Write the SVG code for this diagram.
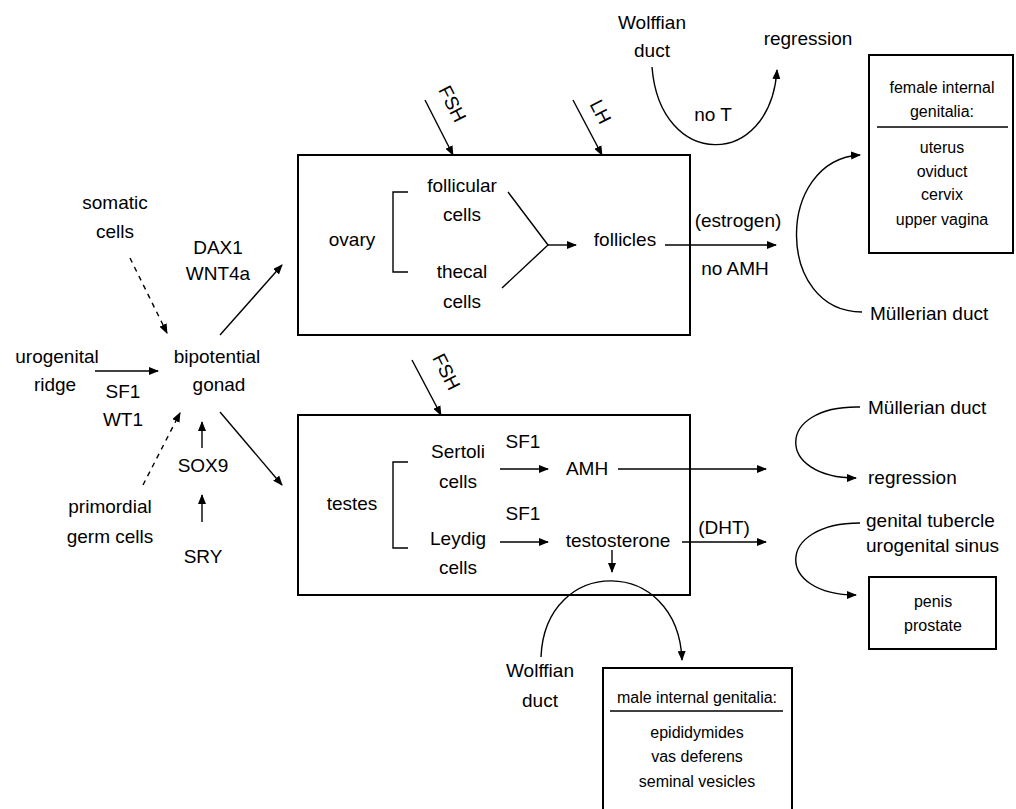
<svg xmlns="http://www.w3.org/2000/svg" width="1016" height="809" viewBox="0 0 1016 809">
<style>
text{font-family:"Liberation Sans",Arial,sans-serif;font-size:19px;fill:#000;text-anchor:middle}
.s{font-size:16px}
.l{text-anchor:start}
.box{fill:none;stroke:#000;stroke-width:2}
.ln{fill:none;stroke:#000;stroke-width:1.4}
.d{stroke-dasharray:5,5}
</style>
<defs>
<marker id="ah" markerWidth="10" markerHeight="8" refX="9" refY="4" orient="auto" markerUnits="userSpaceOnUse">
<path d="M0,0 L10,4 L0,8 z" fill="#000"/>
</marker>
</defs>
<rect width="1016" height="809" fill="#fff"/>

<g id="somatic"><text x="115" y="209">somatic</text><text x="115" y="238">cells</text></g>
<g id="dax"><text x="218" y="254">DAX1</text><text x="218" y="280">WNT4a</text></g>
<g id="urogenital"><text x="57" y="363">urogenital</text><text x="55" y="391">ridge</text></g>
<g id="sf1wt1"><text x="123" y="398">SF1</text><text x="123" y="426">WT1</text></g>
<g id="gonad"><text x="217" y="363">bipotential</text><text x="219" y="391">gonad</text></g>
<g id="sox9"><text x="203" y="472">SOX9</text></g>
<g id="sry"><text x="203" y="563">SRY</text></g>
<g id="primordial"><text x="110" y="513">primordial</text><text x="110" y="543">germ cells</text></g>

<g id="ovary-box">
<rect class="box" x="298" y="155" width="392" height="180"/>
<text x="352" y="246">ovary</text>
<path class="ln" d="M408,192 H393 V272 H408"/>
<text x="462" y="192">follicular</text><text x="462" y="221">cells</text>
<text x="462" y="278">thecal</text><text x="462" y="308">cells</text>
<text x="625" y="246">follicles</text>
</g>
<g id="fsh1"><text x="452" y="110" transform="rotate(63 452 104)">FSH</text></g>
<g id="lh"><text x="600" y="118" transform="rotate(63 600 112)">LH</text></g>

<g id="testes-box">
<rect class="box" x="298" y="415" width="392" height="180"/>
<text x="352" y="510">testes</text>
<path class="ln" d="M408,462 H393 V548 H408"/>
<text x="458" y="458">Sertoli</text><text x="458" y="488">cells</text>
<text x="458" y="545">Leydig</text><text x="458" y="574">cells</text>
<text x="523" y="448">SF1</text><text x="523" y="520">SF1</text>
<text x="587" y="475">AMH</text>
<text x="618" y="547">testosterone</text>
</g>
<g id="fsh2"><text x="446" y="378" transform="rotate(63 446 372)">FSH</text></g>

<g id="wolffian-top"><text x="652" y="29">Wolffian</text><text x="652" y="57">duct</text></g>
<g id="regression-top"><text x="808" y="45">regression</text></g>
<g id="noT"><text x="713" y="121">no T</text></g>
<g id="estrogen"><text x="738" y="227">(estrogen)</text><text x="735" y="275">no AMH</text></g>
<g id="mullerian-f"><text class="l" x="870" y="320">Müllerian duct</text></g>
<g id="female-box">
<rect class="box" x="869" y="55" width="144" height="198"/>
<text class="s" x="942" y="93">female internal</text>
<text class="s" x="942" y="117">genitalia:</text>
<line class="ln" x1="877" y1="127" x2="1008" y2="127"/>
<text class="s" x="942" y="153">uterus</text>
<text class="s" x="942" y="177">oviduct</text>
<text class="s" x="942" y="200">cervix</text>
<text class="s" x="942" y="225">upper vagina</text>
</g>

<g id="mullerian-m"><text class="l" x="868" y="414">Müllerian duct</text></g>
<g id="regression-m"><text class="l" x="868" y="484">regression</text></g>
<g id="tubercle"><text class="l" x="866" y="527">genital tubercle</text><text class="l" x="866" y="552">urogenital sinus</text></g>
<g id="dht"><text x="724" y="534">(DHT)</text></g>
<g id="penis-box">
<rect class="box" x="869" y="577" width="127" height="72"/>
<text class="s" x="933" y="607">penis</text>
<text class="s" x="933" y="631">prostate</text>
</g>
<g id="wolffian-m"><text x="540" y="677">Wolffian</text><text x="540" y="707">duct</text></g>
<g id="male-box">
<rect class="box" x="603" y="668" width="189" height="150"/>
<text class="s" x="697" y="703">male internal genitalia:</text>
<line class="ln" x1="610" y1="711" x2="783" y2="711"/>
<text class="s" x="697" y="738">epididymides</text>
<text class="s" x="697" y="762">vas deferens</text>
<text class="s" x="697" y="787">seminal vesicles</text>
</g>

<g id="connectors">
<line class="ln d" x1="130" y1="258" x2="167" y2="333" marker-end="url(#ah)"/>
<line class="ln" x1="95" y1="371" x2="158" y2="371" marker-end="url(#ah)"/>
<line class="ln d" x1="143" y1="485" x2="180" y2="413" marker-end="url(#ah)"/>
<line class="ln" x1="202" y1="448" x2="202" y2="422" marker-end="url(#ah)"/>
<line class="ln" x1="202" y1="522" x2="202" y2="495" marker-end="url(#ah)"/>
<line class="ln" x1="220" y1="335" x2="282" y2="265" marker-end="url(#ah)"/>
<line class="ln" x1="220" y1="412" x2="282" y2="485" marker-end="url(#ah)"/>
<line class="ln" x1="425" y1="100" x2="453" y2="155" marker-end="url(#ah)"/>
<line class="ln" x1="573" y1="100" x2="602" y2="155" marker-end="url(#ah)"/>
<line class="ln" x1="412" y1="360" x2="441" y2="415" marker-end="url(#ah)"/>
<path class="ln" d="M508,192 L548,245 L502,288"/>
<line class="ln" x1="548" y1="245" x2="576" y2="245" marker-end="url(#ah)"/>
<line class="ln" x1="665" y1="245" x2="776" y2="245" marker-end="url(#ah)"/>
<path class="ln" d="M652,67 C660,170 770,170 777,70" marker-end="url(#ah)"/>
<path class="ln" d="M862,312 C775,312 775,160 860,155" marker-end="url(#ah)"/>
<line class="ln" x1="500" y1="469" x2="548" y2="469" marker-end="url(#ah)"/>
<line class="ln" x1="618" y1="469" x2="766" y2="469" marker-end="url(#ah)"/>
<line class="ln" x1="500" y1="542" x2="548" y2="542" marker-end="url(#ah)"/>
<line class="ln" x1="682" y1="542" x2="766" y2="542" marker-end="url(#ah)"/>
<line class="ln" x1="612" y1="550" x2="612" y2="572" marker-end="url(#ah)"/>
<path class="ln" d="M541,657 C545,555 678,555 682,660" marker-end="url(#ah)"/>
<path class="ln" d="M860,407 C775,405 775,478 856,478" marker-end="url(#ah)"/>
<path class="ln" d="M860,523 C775,523 775,595 856,595" marker-end="url(#ah)"/>
</g>
</svg>
